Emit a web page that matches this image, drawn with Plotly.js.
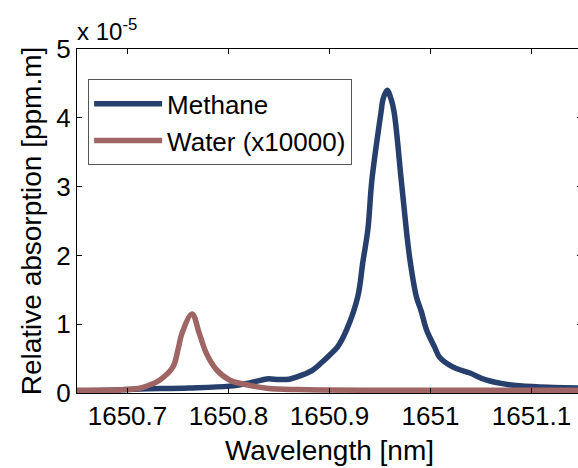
<!DOCTYPE html>
<html>
<head>
<meta charset="utf-8">
<script src="https://cdn.plot.ly/plotly-3.0.1.min.js"></script>
<style>
html,body{margin:0;padding:0;overflow:hidden;background:#fff;width:578px;height:468px;}
#chart{width:583px;height:468px;}
</style>
</head>
<body>
<div id="chart"></div>
<script>
// Wavelength [nm] and relative absorption (x 1e-5 ppm.m)
const methaneX = [1650.650, 1650.690, 1650.712, 1650.761, 1650.801, 1650.821, 1650.838, 1650.850, 1650.860, 1650.867, 1650.883, 1650.892, 1650.900, 1650.908, 1650.917, 1650.928, 1650.933, 1650.938, 1650.942, 1650.951, 1650.953, 1650.957, 1650.961, 1650.964, 1650.971, 1650.976, 1650.980, 1650.986, 1650.991, 1650.996, 1651.004, 1651.009, 1651.022, 1651.039, 1651.055, 1651.078, 1651.105, 1651.150];
const methaneY = [0.030, 0.045, 0.058, 0.073, 0.100, 0.146, 0.205, 0.195, 0.200, 0.230, 0.330, 0.440, 0.550, 0.670, 0.920, 1.400, 1.900, 2.380, 3.100, 4.080, 4.270, 4.400, 4.270, 4.080, 3.100, 2.380, 1.900, 1.400, 1.180, 0.920, 0.670, 0.520, 0.380, 0.290, 0.190, 0.120, 0.090, 0.070];
const waterX = [1650.650, 1650.690, 1650.712, 1650.719, 1650.732, 1650.745, 1650.750, 1650.754, 1650.764, 1650.771, 1650.778, 1650.788, 1650.801, 1650.818, 1650.838, 1650.867, 1650.950, 1651.050, 1651.150];
const waterY = [0.040, 0.045, 0.070, 0.100, 0.190, 0.380, 0.630, 0.870, 1.150, 0.870, 0.580, 0.340, 0.190, 0.120, 0.070, 0.050, 0.040, 0.040, 0.040];
const xTickVals = [1650.7, 1650.8, 1650.9, 1651, 1651.1];
const xTickText = ['1650.7', '1650.8', '1650.9', '1651', '1651.1'];
const yTickVals = [0, 1, 2, 3, 4, 5];

const FONT = 'Liberation Sans, Arial, Helvetica, sans-serif';
const traces = [
  {x: methaneX, y: methaneY, type: 'scatter', mode: 'lines', name: 'Methane',
   line: {color: '#263f6c', width: 5.5, shape: 'spline', smoothing: 1}},
  {x: waterX, y: waterY, type: 'scatter', mode: 'lines', name: 'Water (x10000)',
   line: {color: '#9f6464', width: 5.5, shape: 'spline', smoothing: 1}}
];
const layout = {
  width: 583, height: 468,
  margin: {l: 77, r: 1, t: 49, b: 75, pad: 0},
  paper_bgcolor: '#fff', plot_bgcolor: '#fff',
  font: {family: FONT, size: 26, color: '#000'},
  showlegend: true,
  legend: {x: 0.022, y: 0.912, xanchor: 'left', yanchor: 'top',
    bordercolor: '#555', borderwidth: 1, bgcolor: '#fff',
    font: {family: FONT, size: 26, color: '#000'}, itemwidth: 68, tracegroupgap: 0},
  xaxis: {range: [1650.65, 1651.15], tickmode: 'array', tickvals: xTickVals, ticktext: xTickText,
    ticks: 'inside', ticklen: 5, tickcolor: '#000', showline: true, linecolor: '#000', linewidth: 1,
    mirror: 'ticks', showgrid: false, zeroline: false,
    tickfont: {family: FONT, size: 26, color: '#000'},
    title: {text: 'Wavelength [nm]', font: {family: FONT, size: 28, color: '#000'}, standoff: 10}},
  yaxis: {range: [0, 5], tickmode: 'array', tickvals: yTickVals,
    ticks: 'inside', ticklen: 5, tickcolor: '#000', showline: true, linecolor: '#000', linewidth: 1,
    mirror: 'ticks', showgrid: false, zeroline: false,
    tickfont: {family: FONT, size: 26, color: '#000'},
    title: {text: 'Relative absorption [ppm.m]', font: {family: FONT, size: 28, color: '#000'}, standoff: 6}},
  annotations: [{
    text: 'x 10<sup>-5</sup>', xref: 'paper', yref: 'paper', x: 0, y: 1, xanchor: 'left', yanchor: 'bottom',
    showarrow: false, font: {family: FONT, size: 24, color: '#000'}, yshift: 2, xshift: -2
  }]
};
Plotly.newPlot('chart', traces, layout, {displayModeBar: false, staticPlot: true});
</script>
</body>
</html>
